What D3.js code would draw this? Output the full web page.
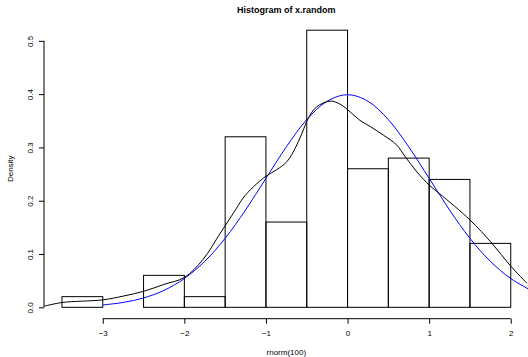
<!DOCTYPE html>
<html>
<head>
<meta charset="utf-8">
<script src="https://cdn.jsdelivr.net/npm/d3@7"></script>
<style>
  body { margin: 0; background: #fff; }
  svg { display: block; font-family: "Liberation Sans", Arial, Helvetica, sans-serif; }
</style>
</head>
<body>
<div id="chart"></div>
<script>
// histogram breaks and densities
const breaks = [-3.5, -3, -2.5, -2, -1.5, -1, -0.5, 0, 0.5, 1, 1.5, 2];
const densities = [0.02, 0, 0.06, 0.02, 0.32, 0.16, 0.52, 0.26, 0.28, 0.24, 0.12];

// kernel density estimate (black line)
const kdeX = [-3.72, -3.5, -3.0, -2.75, -2.5, -2.25, -2.0, -1.77, -1.56, -1.36, -1.28, -1.155,
  -1.0, -0.87, -0.745, -0.643, -0.56, -0.48, -0.38, -0.21, -0.09, 0.03, 0.15, 0.28, 0.44,
  0.60, 0.705, 0.85, 1.01, 1.13, 1.5, 1.77, 1.99, 2.2];
const kdeY = [0.002, 0.009, 0.014, 0.021, 0.030, 0.043, 0.056, 0.090, 0.139, 0.186, 0.205, 0.226,
  0.246, 0.258, 0.273, 0.298, 0.326, 0.355, 0.376, 0.387, 0.381, 0.367, 0.351, 0.339, 0.323,
  0.305, 0.283, 0.254, 0.228, 0.213, 0.164, 0.120, 0.079, 0.045];

// normal curve (blue line)
const normX = [-3, -2.75, -2.5, -2.25, -2, -1.75, -1.5, -1.25, -1, -0.75, -0.5, -0.25, 0,
  0.25, 0.5, 0.75, 1, 1.25, 1.5, 1.75, 2, 2.25];
const normY = [0.0044, 0.0091, 0.0175, 0.0317, 0.054, 0.0863, 0.1295, 0.1826, 0.242, 0.3011,
  0.3521, 0.3867, 0.3989, 0.3867, 0.3521, 0.3011, 0.242, 0.1826, 0.1295, 0.0863, 0.054, 0.0317];

const xTicks = [-3, -2, -1, 0, 1, 2];
const yTicks = [0, 0.1, 0.2, 0.3, 0.4, 0.5];

const width = 528, height = 357;
const plot = { left: 44, right: 528.7, top: 19.1, bottom: 318.4 };

const svg = d3.select("#chart").append("svg")
  .attr("width", width)
  .attr("height", height);

const x = d3.scaleLinear().domain([-3.72, 2.22]).range([plot.left, plot.right]);
const y = d3.scaleLinear().domain([-0.0208, 0.5408]).range([plot.bottom, plot.top]);

svg.append("defs").append("clipPath").attr("id", "clip")
  .append("rect")
  .attr("x", plot.left).attr("y", plot.top)
  .attr("width", plot.right - plot.left).attr("height", plot.bottom - plot.top);

// bars
svg.append("g")
  .selectAll("rect")
  .data(densities)
  .enter()
  .append("rect")
  .attr("x", (d, i) => x(breaks[i]))
  .attr("y", d => y(d))
  .attr("width", (d, i) => x(breaks[i + 1]) - x(breaks[i]))
  .attr("height", d => y(0) - y(d))
  .attr("fill", "none")
  .attr("stroke", "#000")
  .attr("stroke-width", 1);

// curves
const line = d3.line()
  .x(d => x(d[0]))
  .y(d => y(d[1]))
  .curve(d3.curveCatmullRom.alpha(0.5));

const curves = svg.append("g").attr("clip-path", "url(#clip)");
curves.append("path")
  .attr("d", line(normX.map((v, i) => [v, normY[i]])))
  .attr("fill", "none")
  .attr("stroke", "#0000ff")
  .attr("stroke-width", 1);
curves.append("path")
  .attr("d", line(kdeX.map((v, i) => [v, kdeY[i]])))
  .attr("fill", "none")
  .attr("stroke", "#000")
  .attr("stroke-width", 1);

// x axis
const xAxis = svg.append("g")
  .attr("transform", "translate(0," + 318.7 + ")")
  .call(d3.axisBottom(x).tickValues(xTicks).tickSize(5).tickPadding(7)
    .tickFormat(d => d < 0 ? "\u2212" + Math.abs(d) : d));
xAxis.select(".domain").remove();
xAxis.append("line")
  .attr("x1", x(xTicks[0])).attr("x2", x(xTicks[xTicks.length - 1]))
  .attr("stroke", "#000");
xAxis.selectAll("text").attr("font-size", 8).attr("font-family", null).attr("fill", "#000");

// y axis
const yAxis = svg.append("g")
  .attr("transform", "translate(" + plot.left + ",0)")
  .call(d3.axisLeft(y).tickValues(yTicks).tickSize(5).tickFormat(d3.format(".1f")));
yAxis.select(".domain").remove();
yAxis.append("line")
  .attr("y1", y(yTicks[0])).attr("y2", y(yTicks[yTicks.length - 1]))
  .attr("stroke", "#000");
yAxis.selectAll("text")
  .attr("x", null).attr("dy", "0.35em")
  .attr("text-anchor", "middle")
  .attr("transform", "translate(-14,0) rotate(-90)")
  .attr("font-size", 8).attr("font-family", null).attr("fill", "#000");

// labels
svg.append("text")
  .attr("x", (plot.left + plot.right) / 2).attr("y", 12.5)
  .attr("text-anchor", "middle")
  .attr("font-size", 9).attr("font-weight", "bold")
  .text("Histogram of x.random");

svg.append("text")
  .attr("x", (plot.left + plot.right) / 2).attr("y", 355)
  .attr("text-anchor", "middle")
  .attr("font-size", 8)
  .text("rnorm(100)");

svg.append("text")
  .attr("transform", "translate(10," + (plot.top + plot.bottom) / 2 + ") rotate(-90)")
  .attr("dy", "0.35em")
  .attr("text-anchor", "middle")
  .attr("font-size", 8)
  .text("Density");
</script>
</body>
</html>
